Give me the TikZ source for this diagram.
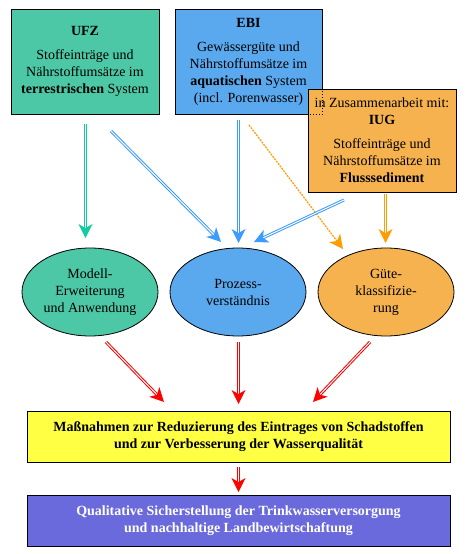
\documentclass[tikz,border=0pt]{standalone}
\usepackage{fontspec}
\setmainfont{Liberation Serif}
\usetikzlibrary{shapes.geometric,calc}
\definecolor{ufzgreen}{HTML}{4CC8A6}
\definecolor{ebiblue}{HTML}{5AA8EE}
\definecolor{iugorange}{HTML}{F5B24E}
\definecolor{massgelb}{HTML}{FFFF44}
\definecolor{zielblau}{HTML}{6A6ADC}
\definecolor{pfgruen}{HTML}{11CC9E}
\definecolor{pfblau}{HTML}{3C9BFF}
\definecolor{pforange}{HTML}{FF9C00}
\newcommand{\txt}{\fontsize{14}{17}\selectfont}
\newcommand{\gross}{\fontsize{14}{16.5}\selectfont\bfseries}
\newcommand{\spitze}[3]{%
  \fill[#1] (#3) -- ($(#3)!14pt!(#2)!7pt!90:(#3)$) -- ($(#3)!10pt!(#2)$)
    -- ($(#3)!14pt!(#2)!7pt!-90:(#3)$) -- cycle;}
\newcommand{\pfeil}[3]{%
  \draw[schaft=#1] (#2) -- ($(#3)!9pt!(#2)$);
  \spitze{#1}{#2}{#3}}
\tikzset{
  kasten/.style={draw=black,line width=0.8pt,align=center,font=\txt,inner sep=0pt},
  oval/.style={ellipse,draw=black,line width=0.8pt,align=center,font=\txt,
    minimum width=136pt,minimum height=88pt,inner sep=0pt},
  schaft/.style={draw=#1,line width=1pt,double=white,double distance=1pt},
  duenn/.style={draw=pforange,line width=1.2pt,dash pattern=on 2pt off 1pt}
}
\begin{document}
\begin{tikzpicture}[x=1pt,y=-1pt]
  \useasboundingbox (0,0) rectangle (468,554);
  % Quellen
  \node[kasten,fill=ufzgreen,minimum width=148pt,minimum height=105pt] (ufz) at (85,61.5)
    {\textbf{UFZ}\\[7pt] Stoffeinträge und\\ Nährstoffumsätze im\\ \textbf{terrestrischen} System};
  \node[kasten,fill=ebiblue,minimum width=147pt,minimum height=105pt] (ebi) at (248.5,61.5)
    {\textbf{EBI}\\[7pt] Gewässergüte und\\ Nährstoffumsätze im\\ \textbf{aquatischen} System\\ (incl. Porenwasser)};
  \node[kasten,fill=iugorange,minimum width=148pt,minimum height=103pt] (iug) at (382,140.5)
    {in Zusammenarbeit mit:\\ \textbf{IUG}\\[7pt] Stoffeinträge und\\ Nährstoffumsätze im\\ \textbf{Flusssediment}};
  \draw[dotted,line width=0.8pt] (ebi.south east) -- ++(0,-25) (ebi.south east) -- ++(-14,0);
  % Ergebnisse
  \node[oval,fill=ufzgreen] (modell) at (90,292) {Modell-\\ Erweiterung\\ und Anwendung};
  \node[oval,fill=ebiblue] (prozess) at (238,292) {Prozess-\\ verständnis};
  \node[oval,fill=iugorange] (guete) at (386,292) {Güte-\\ klassifizie-\\ rung};
  \node[kasten,fill=massgelb,minimum width=423pt,minimum height=51pt,font=\gross] (mass) at (238.5,436.5)
    {Maßnahmen zur Reduzierung des Eintrages von Schadstoffen\\ und zur Verbesserung der Wasserqualität};
  \node[kasten,fill=zielblau,text=white,minimum width=423pt,minimum height=51pt,font=\gross] (ziel) at (238.5,520.5)
    {Qualitative Sicherstellung der Trinkwasserversorgung\\ und nachhaltige Landbewirtschaftung};
  % Pfeile
  \coordinate (u1) at (85.5,124);   \coordinate (m1) at (85.5,238);
  \coordinate (u2) at (111,131);    \coordinate (p1) at (221,242);
  \coordinate (e1) at (238.5,120);  \coordinate (p2) at (238.5,243);
  \coordinate (e2) at (249,125);    \coordinate (g1) at (343,249);
  \coordinate (i1) at (344,200);    \coordinate (p3) at (254,242);
  \coordinate (i2) at (385.5,194);  \coordinate (g2) at (385.5,243);
  \coordinate (m2) at (106,342);    \coordinate (a1) at (164,402);
  \coordinate (p4) at (238.5,342);  \coordinate (a2) at (238.5,404);
  \coordinate (g3) at (370,342);    \coordinate (a3) at (313,402);
  \coordinate (a4) at (238.5,467);  \coordinate (z1) at (238.5,492);
  \pfeil{pfgruen}{u1}{m1}
  \pfeil{pfblau}{u2}{p1}
  \pfeil{pfblau}{e1}{p2}
  \draw[duenn] (e2) -- ($(g1)!9pt!(e2)$);
  \spitze{pforange}{e2}{g1}
  \pfeil{pfblau}{i1}{p3}
  \pfeil{pforange}{i2}{g2}
  \foreach \s/\t in {m2/a1,p4/a2,g3/a3,a4/z1}{
    \pfeil{red}{\s}{\t}
  }
\end{tikzpicture}
\end{document}
